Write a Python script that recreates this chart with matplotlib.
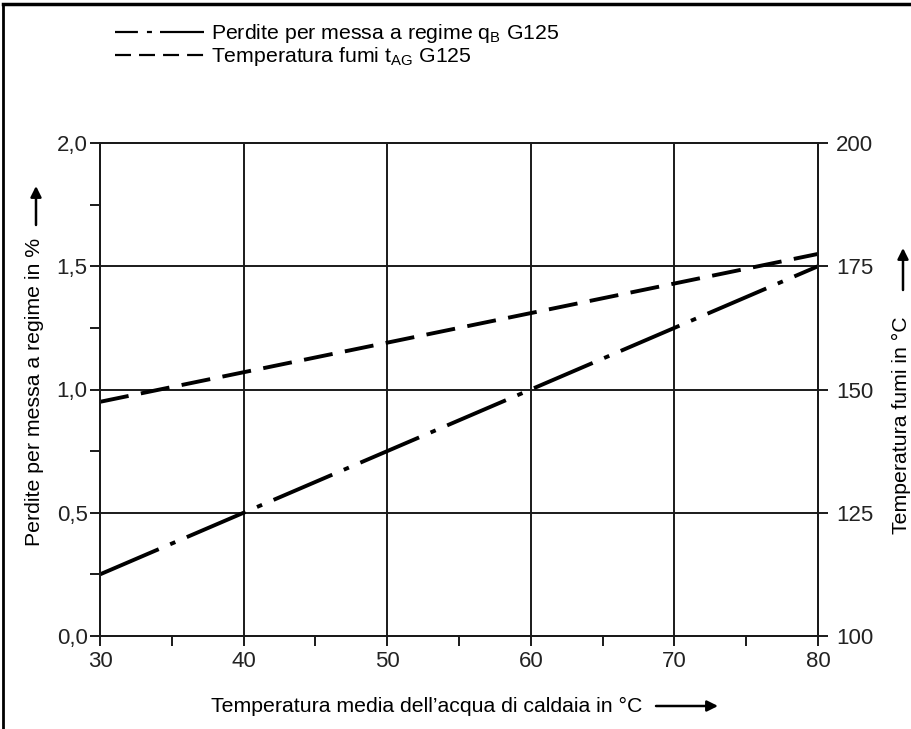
import numpy as np
import matplotlib.pyplot as plt
from matplotlib.ticker import FixedLocator, FuncFormatter
from matplotlib.lines import Line2D
from matplotlib.patches import FancyArrowPatch

plt.rcParams['font.family'] = ['Liberation Sans', 'DejaVu Sans']
plt.rcParams['mathtext.fontset'] = 'custom'
plt.rcParams['mathtext.rm'] = 'Liberation Sans'
plt.rcParams['mathtext.it'] = 'Liberation Sans'
plt.rcParams['lines.scale_dashes'] = False

# data
temp_acqua = [30, 40, 50, 60, 70, 80]
perdite = [0.25, 0.50, 0.75, 1.00, 1.25, 1.50]
temp_fumi = [147.5, 153.5, 159.5, 165.5, 171.5, 177.5]

x_ticks = [30, 40, 50, 60, 70, 80]
y_left_ticks = [0.0, 0.5, 1.0, 1.5, 2.0]
y_right_ticks = [100, 125, 150, 175, 200]

label_perdite = r'Perdite per messa a regime q$_\mathrm{B}$ G125'
label_fumi = r'Temperatura fumi t$_\mathrm{AG}$ G125'

fs = 15.3      # labels
fs_tick = 16   # tick labels
ink = '#1a1a1a'

fig = plt.figure(figsize=(9.11, 7.29), dpi=100)
ax = fig.add_axes([100/911, 1-636/729, 718/911, 493/729])
ax2 = ax.twinx()

ax.set_xlim(30, 80)
ax.set_ylim(0, 2)
ax2.set_ylim(100, 200)

for a in (ax, ax2):
    for s in a.spines.values():
        s.set_linewidth(1.4)
        s.set_color(ink)

ax.xaxis.set_major_locator(FixedLocator(x_ticks))
ax.xaxis.set_minor_locator(FixedLocator([35, 45, 55, 65, 75]))
ax.yaxis.set_major_locator(FixedLocator(y_left_ticks))
ax.yaxis.set_minor_locator(FixedLocator([0.25, 0.75, 1.25, 1.75]))
ax.yaxis.set_major_formatter(FuncFormatter(lambda v, p: ('%.1f' % v).replace('.', ',')))
ax2.yaxis.set_major_locator(FixedLocator(y_right_ticks))

ax.tick_params(axis='x', which='major', direction='out', length=7, width=1.4,
               color=ink, labelsize=fs_tick, pad=4, labelcolor='#222222')
ax.tick_params(axis='x', which='minor', direction='out', length=7, width=1.4, color=ink)
ax.tick_params(axis='y', which='both', direction='out', length=7, width=1.4,
               color=ink, labelsize=fs_tick, pad=2, labelcolor='#222222')
ax2.tick_params(axis='y', which='major', direction='out', length=7, width=1.4,
                color=ink, labelsize=fs_tick, pad=6, labelcolor='#222222')

ax.grid(True, which='major', color=ink, linewidth=1.4)

ax.plot(temp_acqua, perdite, color='black', linewidth=2.8,
        dash_capstyle='butt', dashes=(46, 9, 4, 9))
ax2.plot(temp_acqua, temp_fumi, color='black', linewidth=2.8,
         dash_capstyle='butt', dashes=(21, 9))

# axis labels with arrows
fig.text(35/911, 1-392/729, 'Perdite per messa a regime in %', rotation=90,
         ha='center', va='center', fontsize=fs)
fig.text(901/911, 1-425/729, 'Temperatura fumi in °C', rotation=90,
         ha='center', va='center', fontsize=fs)
fig.text(211/911, 1-706/729, 'Temperatura media dell\u2019acqua di caldaia in °C',
         ha='left', va='center', fontsize=fs)
arrow = dict(arrowstyle='-|>', color='black', lw=1.8, mutation_scale=16,
             shrinkA=0, shrinkB=0, transform=fig.transFigure)
fig.add_artist(FancyArrowPatch((36/911, 1-225/729), (36/911, 1-186/729), **arrow))
fig.add_artist(FancyArrowPatch((903/911, 1-290/729), (903/911, 1-248/729), **arrow))
fig.add_artist(FancyArrowPatch((656/911, 1-706/729), (718/911, 1-706/729), **arrow))

# legend
handles = [Line2D([], [], color='black', linewidth=1.6,
                  dashes=(16.5, 6.5, 3.6, 5.8, 60, 10)),
           Line2D([], [], color='black', linewidth=1.6, dashes=(11.5, 5.8))]
fig.legend(handles, [label_perdite, label_fumi], loc='upper left',
           bbox_to_anchor=(115/911, 1-22/729), frameon=False, fontsize=fs,
           handlelength=4.2, handletextpad=0.3, labelspacing=0.0, borderpad=0,
           borderaxespad=0)

# outer frame (top and left)
fig.add_artist(Line2D([3/911, 3/911], [0, 1-4/729], transform=fig.transFigure,
                      color='black', linewidth=2))
fig.add_artist(Line2D([3/911, 1], [1-4/729, 1-4/729], transform=fig.transFigure,
                      color='black', linewidth=2.5))

fig.savefig('out.png', dpi=100)
